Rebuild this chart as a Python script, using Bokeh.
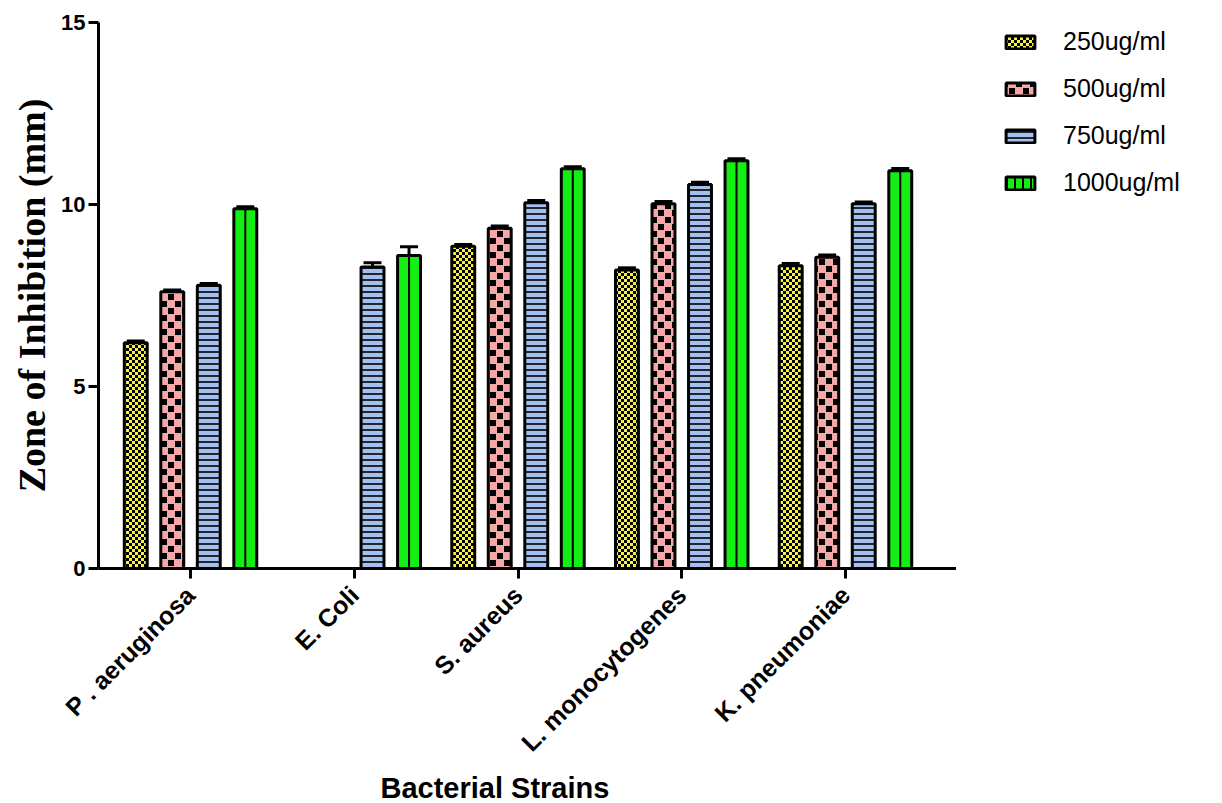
import numpy as np
import zlib, struct, base64
from bokeh.plotting import figure
from bokeh.layouts import row
from bokeh.models import (ColumnDataSource, FixedTicker, Legend, LegendItem, Whisker,
                          TeeHead, ImageURLTexture, Range1d, Title)
from bokeh.core.properties import value
from bokeh.embed import file_html
from bokeh.resources import INLINE

# ---------------- data ----------------
strains = ["P . aeruginosa", "E. Coli", "S. aureus", "L. monocytogenes", "K. pneumoniae"]
series = ["250ug/ml", "500ug/ml", "750ug/ml", "1000ug/ml"]
v250 = [6.2, 0.0, 8.85, 8.2, 8.32]
v500 = [7.6, 0.0, 9.35, 10.02, 8.55]
v750 = [7.78, 8.28, 10.05, 10.55, 10.02]
v1000 = [9.88, 8.6, 10.98, 11.2, 10.93]
e250 = [0.05, 0.0, 0.05, 0.06, 0.06]
e500 = [0.05, 0.0, 0.06, 0.06, 0.06]
e750 = [0.05, 0.12, 0.06, 0.06, 0.05]
e1000 = [0.06, 0.24, 0.06, 0.06, 0.06]
y_ticks = [0, 5, 10, 15]

values = [v250, v500, v750, v1000]
errors = [e250, e500, e750, e1000]
fills = ["#f7f23a", "#f4a8a8", "#a3c0ee", "#14ee14"]


def png_url(size, cell, dark, rgb):
    rows = []
    for y in range(size):
        line = bytearray([0])
        for x in range(size):
            cx, cy = x // cell, y // cell
            inside = (x % cell) < dark and (y % cell) < dark
            if (cx + cy) % 2 == 0 and inside:
                line += bytes([0, 0, 0, 255])
            else:
                line += bytes(list(rgb) + [255])
        rows.append(bytes(line))
    raw = b"".join(rows)

    def chunk(t, d):
        c = struct.pack(">I", len(d)) + t + d
        return c + struct.pack(">I", zlib.crc32(t + d) & 0xffffffff)
    png = b"\x89PNG\r\n\x1a\n" + chunk(b"IHDR", struct.pack(">IIBBBBB", size, size, 8, 6, 0, 0, 0)) \
        + chunk(b"IDAT", zlib.compress(raw)) + chunk(b"IEND", b"")
    return "data:image/png;base64," + base64.b64encode(png).decode()


def hex_rgb(h):
    return tuple(int(h[i:i + 2], 16) for i in (1, 3, 5))


tex_y = {"ychk": ImageURLTexture(url=png_url(6, 3, 3, hex_rgb(fills[0])), repetition="repeat")}
tex_p = {"pchk": ImageURLTexture(url=png_url(14, 7, 6, hex_rgb(fills[1])), repetition="repeat")}
hatch_styles = [
    dict(hatch_pattern=value("ychk"), hatch_extra=tex_y),
    dict(hatch_pattern=value("pchk"), hatch_extra=tex_p),
    dict(hatch_pattern="horizontal_line", hatch_color="black", hatch_scale=6, hatch_weight=1.6),
    dict(),
]
legend_hatch = [hatch_styles[0], hatch_styles[1], hatch_styles[2],
                dict(hatch_pattern="vertical_line", hatch_color="black", hatch_scale=8, hatch_weight=2)]

p = figure(width=956, height=803, x_range=Range1d(-0.562, 4.678), y_range=Range1d(0, 15),
           output_backend="svg", toolbar_location=None,
           min_border_left=98, min_border_right=0, min_border_top=22, min_border_bottom=233)
p.background_fill_color = "white"
p.border_fill_color = "white"
p.outline_line_color = None
p.xgrid.grid_line_color = None
p.ygrid.grid_line_color = None

# legend figure
lf = figure(width=250, height=803, x_range=Range1d(0, 1), y_range=Range1d(0, 1),
            output_backend="svg", toolbar_location=None,
            min_border_left=41, min_border_right=0, min_border_top=0, min_border_bottom=0)
lf.axis.visible = False
lf.grid.grid_line_color = None
lf.outline_line_color = None
lf.background_fill_color = "white"
lf.border_fill_color = "white"

pitch = 0.223
bw = 0.14
idx = np.arange(len(strains))
legend_renderers = []
for k in range(4):
    vals = np.array(values[k])
    errs = np.array(errors[k])
    mask = vals > 0
    xs = idx + (k - 1.5) * pitch
    src = ColumnDataSource(dict(x=xs[mask], top=vals[mask], up=vals[mask] + errs[mask]))
    p.vbar(x="x", top="top", width=bw, source=src, fill_color=fills[k],
           line_color="black", line_width=3, **hatch_styles[k])
    if k == 3:
        p.segment(x0="x", y0=0, x1="x", y1="top", source=src, line_color="black", line_width=2)
    p.add_layout(Whisker(base="x", lower="top", upper="up", source=src, line_width=3,
                         line_color="black",
                         upper_head=TeeHead(size=18, line_width=3, line_color="black"),
                         lower_head=None))
    # hidden renderer used only for the legend swatch
    lsrc = ColumnDataSource(dict(x=xs[mask], top=vals[mask]))
    r = lf.vbar(x="x", top="top", width=bw, source=lsrc, fill_color=fills[k],
                line_color="black", line_width=3, visible=False, **legend_hatch[k])
    legend_renderers.append(r)

# axes
for ax in (p.xaxis[0], p.yaxis[0]):
    ax.axis_line_width = 3
    ax.axis_line_color = "black"
    ax.major_tick_line_width = 3
    ax.major_tick_line_color = "black"
    ax.major_tick_out = 10
    ax.major_tick_in = 0
    ax.minor_tick_line_color = None
    ax.major_label_text_font = "Liberation Sans"
    ax.major_label_text_font_style = "bold"
    ax.major_label_text_color = "black"

p.yaxis.ticker = FixedTicker(ticks=y_ticks)
p.yaxis.major_label_text_font_size = "22px"
p.yaxis.major_label_standoff = 3
p.yaxis.axis_label = "Zone of Inhibition (mm)"
p.yaxis.axis_label_text_font = "Liberation Serif"
p.yaxis.axis_label_text_font_style = "bold"
p.yaxis.axis_label_text_font_size = "38px"
p.yaxis.axis_label_text_color = "black"
p.yaxis.axis_label_standoff = 5

p.xaxis.ticker = FixedTicker(ticks=list(range(len(strains))))
p.xaxis.major_label_overrides = {i: s for i, s in enumerate(strains)}
p.xaxis.major_label_orientation = np.pi / 4
p.xaxis.major_label_text_font_size = "25px"
p.xaxis.major_label_standoff = 12

xtitle = Title(text="Bacterial Strains", align="left", offset=282,
               text_font="Liberation Sans", text_font_style="bold",
               text_font_size="29px", text_color="black", standoff=0)
p.add_layout(xtitle, "below")

leg = Legend(items=[LegendItem(label=series[k], renderers=[legend_renderers[k]]) for k in range(4)],
             location="top_left", spacing=18, glyph_width=36, glyph_height=16,
             label_text_font="Liberation Sans", label_text_font_size="25px",
             label_text_color="black", border_line_color=None, background_fill_alpha=0,
             inactive_fill_alpha=0, padding=10, label_standoff=25, margin=5)
lf.add_layout(leg)

layout = row(p, lf, spacing=0)
open("out.html", "w").write(file_html(layout, INLINE))
